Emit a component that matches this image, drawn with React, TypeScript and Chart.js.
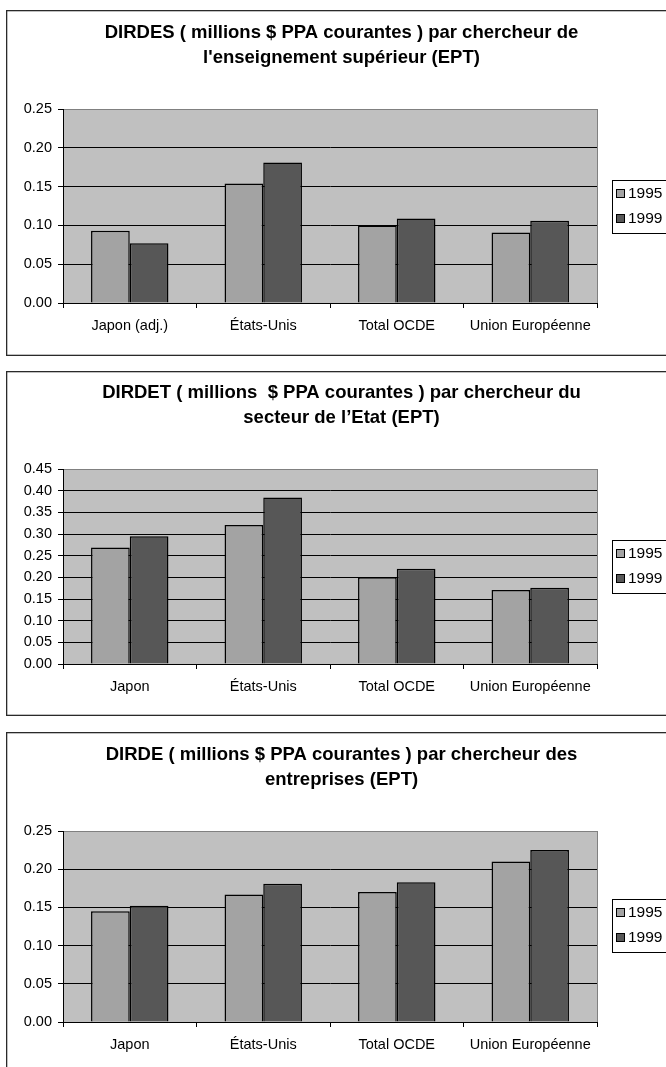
import React, { useEffect, useRef } from "react";
import { Chart, registerables } from "chart.js";

Chart.register(...registerables);

// Categories (first panel uses an adjusted figure for Japan)
const CATEGORIES_DIRDES = ["Japon (adj.)", "États-Unis", "Total OCDE", "Union Européenne"];
const CATEGORIES = ["Japon", "États-Unis", "Total OCDE", "Union Européenne"];
const SERIES = ["1995", "1999"];

// DIRDES per higher-education researcher (FTE)
const DIRDES_1995 = [0.093, 0.154, 0.1, 0.091];
const DIRDES_1999 = [0.077, 0.181, 0.109, 0.106];

// DIRDET per government-sector researcher (FTE)
const DIRDET_1995 = [0.269, 0.321, 0.2, 0.171];
const DIRDET_1999 = [0.295, 0.384, 0.22, 0.176];

// DIRDE per business-enterprise researcher (FTE)
const DIRDE_1995 = [0.145, 0.167, 0.17, 0.21];
const DIRDE_1999 = [0.152, 0.181, 0.183, 0.225];

const Y_MAX = [0.25, 0.45, 0.25];
const Y_STEP = 0.05;

const TITLES = [
  ["DIRDES ( millions $ PPA courantes ) par chercheur de", "l'enseignement supérieur (EPT)"],
  ["DIRDET ( millions  $ PPA courantes ) par chercheur du", "secteur de l’Etat (EPT)"],
  ["DIRDE ( millions $ PPA courantes ) par chercheur des", "entreprises (EPT)"],
];

const PANEL_DATA = [
  { labels: CATEGORIES_DIRDES, a: DIRDES_1995, b: DIRDES_1999 },
  { labels: CATEGORIES, a: DIRDET_1995, b: DIRDET_1999 },
  { labels: CATEGORIES, a: DIRDE_1995, b: DIRDE_1999 },
];

// Frame geometry of each panel (canvas coordinates inside the panel)
const PANEL_LAYOUT = [
  { top: 10, height: 346, titleTop: 10.5, plotTop: 99, plotBottom: 293, legendTop: 170 },
  { top: 371, height: 345, titleTop: 9.8, plotTop: 98, plotBottom: 293, legendTop: 169 },
  { top: 732, height: 346, titleTop: 10.5, plotTop: 99, plotBottom: 290, legendTop: 167 },
];

const PANEL_LEFT = 6;
const PANEL_WIDTH = 671;
const AXIS_WIDTH = 57;
const RIGHT_SPACE = 80;
const FONT_FAMILY = "'Liberation Sans', Arial, Helvetica, sans-serif";
const COLOR_1995 = "#a3a3a3";
const COLOR_1999 = "#575757";
const PLOT_BG = "#c0c0c0";

function framePlugin() {
  return {
    id: "panelFrame",
    beforeDraw(chart: any) {
      const { ctx, width, height, chartArea: a } = chart;
      ctx.save();
      ctx.fillStyle = "#fff";
      ctx.fillRect(0, 0, width, height);
      ctx.strokeStyle = "#2a2a2a";
      ctx.lineWidth = 1.3;
      ctx.strokeRect(0.65, 0.65, width - 1.3, height - 1.3);
      ctx.lineWidth = 1;
      ctx.fillStyle = PLOT_BG;
      ctx.fillRect(a.left, a.top, a.right - a.left, a.bottom - a.top);
      ctx.strokeStyle = "#808080";
      ctx.strokeRect(a.left + 0.5, a.top + 0.5, a.right - a.left, a.bottom - a.top);
      ctx.restore();
    },
  };
}

function boxedLegendPlugin(top: number) {
  return {
    id: "boxedLegend",
    afterDraw(chart: any) {
      const { ctx } = chart;
      const x = 606;
      const w = 58;
      const h = 53;
      ctx.save();
      ctx.fillStyle = "#fff";
      ctx.fillRect(x, top, w, h);
      ctx.strokeStyle = "#000";
      ctx.lineWidth = 1;
      ctx.strokeRect(x + 0.5, top + 0.5, w, h);
      ctx.font = `15.5px ${FONT_FAMILY}`;
      ctx.textBaseline = "middle";
      ctx.textAlign = "left";
      chart.data.datasets.forEach((ds: any, i: number) => {
        const cy = top + 13 + i * 25;
        const sy = Math.round(cy - 3.5);
        ctx.fillStyle = ds.backgroundColor;
        ctx.fillRect(x + 5, sy, 7, 7);
        ctx.strokeStyle = "#000";
        ctx.strokeRect(x + 4.5, sy - 0.5, 8, 8);
        ctx.fillStyle = "#000";
        ctx.fillText(ds.label, x + 16, cy + 0.5);
      });
      ctx.restore();
    },
  };
}

function Panel({ index }: { index: number }) {
  const ref = useRef<HTMLCanvasElement | null>(null);
  const layout = PANEL_LAYOUT[index];
  const data = PANEL_DATA[index];

  useEffect(() => {
    if (!ref.current) return;
    const yMax = Y_MAX[index];
    const titleLines = TITLES[index];
    const titleBottom = layout.plotTop - layout.titleTop - 25 * titleLines.length;
    const labelFont = { family: FONT_FAMILY, size: 14.5 };

    const chart = new Chart(ref.current, {
      type: "bar",
      data: {
        labels: data.labels,
        datasets: [
          {
            label: SERIES[0],
            data: data.a,
            backgroundColor: COLOR_1995,
            borderColor: "#000",
            borderWidth: 1.5,
            categoryPercentage: 0.58,
            barPercentage: 1,
          },
          {
            label: SERIES[1],
            data: data.b,
            backgroundColor: COLOR_1999,
            borderColor: "#000",
            borderWidth: 1.5,
            categoryPercentage: 0.58,
            barPercentage: 1,
          },
        ],
      },
      options: {
        responsive: false,
        animation: false,
        events: [],
        layout: { padding: 0 },
        plugins: {
          legend: { display: false },
          tooltip: { enabled: false },
          title: {
            display: true,
            text: titleLines,
            color: "#000",
            font: { family: FONT_FAMILY, size: 18.5, weight: "bold", lineHeight: "25px" },
            padding: { top: layout.titleTop, bottom: titleBottom },
          },
        },
        scales: {
          x: {
            offset: true,
            grid: {
              display: true,
              offset: true,
              drawOnChartArea: false,
              drawTicks: true,
              tickLength: 5,
              color: "#000",
              tickColor: "#000",
            },
            border: { display: true, color: "#000" },
            ticks: {
              font: labelFont,
              color: "#000",
              padding: 9.3,
              maxRotation: 0,
              autoSkip: false,
            },
            afterFit: (s: any) => {
              s.height = layout.height - layout.plotBottom;
            },
          },
          y: {
            min: 0,
            max: yMax,
            grid: {
              color: (ctx: any) =>
                ctx.tick && Math.abs(ctx.tick.value - yMax) < 1e-9 ? "#808080" : "#000",
              tickColor: "#000",
              tickLength: 5,
            },
            border: { display: true, color: "#000" },
            ticks: {
              stepSize: Y_STEP,
              font: labelFont,
              color: "#000",
              padding: 6,
              callback: (v: any) => Number(v).toFixed(2),
            },
            afterFit: (s: any) => {
              s.width = AXIS_WIDTH;
            },
          },
          legendSpace: {
            type: "linear",
            position: "right",
            display: true,
            grid: { display: false, drawTicks: false },
            border: { display: false },
            ticks: { display: false },
            afterFit: (s: any) => {
              s.width = RIGHT_SPACE;
            },
          },
        },
      } as any,
      plugins: [framePlugin(), boxedLegendPlugin(layout.legendTop)],
    });
    return () => chart.destroy();
  }, [index]);

  return (
    <canvas
      ref={ref}
      width={PANEL_WIDTH}
      height={layout.height}
      style={{
        position: "absolute",
        left: PANEL_LEFT,
        top: layout.top,
        width: PANEL_WIDTH,
        height: layout.height,
        display: "block",
      }}
    />
  );
}

export default function App() {
  return (
    <div
      style={{
        position: "absolute",
        left: 0,
        top: 0,
        width: 666,
        height: 1067,
        overflow: "hidden",
        background: "#fff",
      }}
    >
      {PANEL_LAYOUT.map((_, i) => (
        <Panel key={i} index={i} />
      ))}
    </div>
  );
}
